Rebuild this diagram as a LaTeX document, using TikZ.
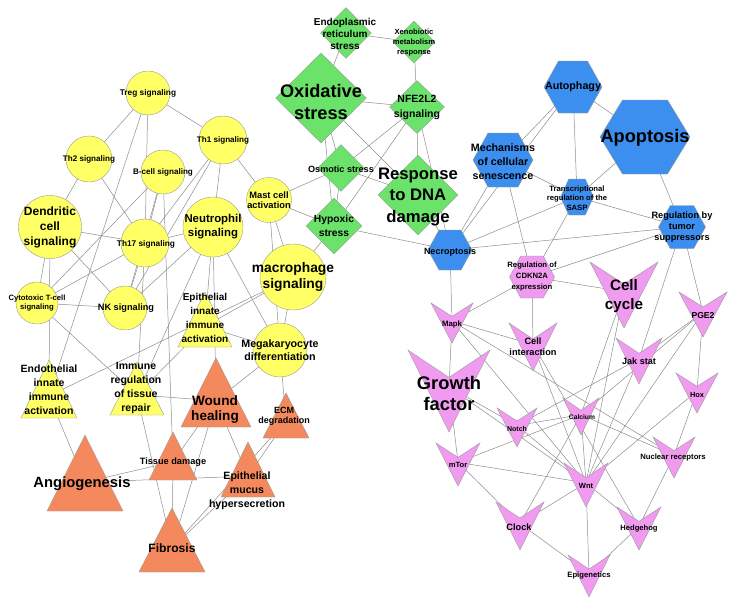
\documentclass[tikz,border=0pt]{standalone}
\usepackage{fontspec}
\setmainfont{Liberation Sans}
\usetikzlibrary{shapes.geometric,backgrounds}
\definecolor{sigyellow}{HTML}{FFFF66}
\definecolor{stressgreen}{HTML}{6BE36B}
\definecolor{hexblue}{HTML}{3D8FEF}
\definecolor{tisorange}{HTML}{F4895E}
\definecolor{veepink}{HTML}{F09BF0}
\newcommand\fs[2]{\fontsize{#1}{#2}\selectfont\bfseries}
% triangle: style, name, apex x, apex y, half width, height
\newcommand\trinode[6]{\path[#1] (#3,#4) -- ++(#5,#6) -- ++({-2*#5},0) -- cycle;
  \coordinate (#2) at (#3,{#4+0.62*#6});}
% hexagon: style, name, cx, cy, width, height
\newcommand\hexnode[6]{\path[#1] ({#3-#5/2},#4) -- ({#3-#5/4},{#4-#6/2}) -- ({#3+#5/4},{#4-#6/2})
  -- ({#3+#5/2},#4) -- ({#3+#5/4},{#4+#6/2}) -- ({#3-#5/4},{#4+#6/2}) -- cycle;
  \coordinate (#2) at (#3,#4);}
% vee: name, cx, top y, half width, height
\newcommand\veenode[5]{\path[vee] ({#2-#4},#3) -- (#2,{#3+#5/3}) -- ({#2+#4},#3) -- (#2,{#3+#5}) -- cycle;
  \coordinate (#1) at (#2,{#3+0.45*#5});}
\tikzset{
  sig/.style={circle, draw=gray!80, fill=sigyellow, inner sep=0pt},
  stress/.style={diamond, draw=gray!80, fill=stressgreen, inner sep=0pt},
  bluehex/.style={draw=gray!80, fill=hexblue},
  pinkhex/.style={draw=gray!80, fill=veepink},
  yelltri/.style={draw=gray!80, fill=sigyellow},
  oratri/.style={draw=gray!80, fill=tisorange},
  vee/.style={draw=gray!80, fill=veepink},
  lbl/.style={inner sep=0pt, align=center},
  link/.style={draw=gray!90, line width=0.5pt}
}
\begin{document}
\begin{tikzpicture}[x=1pt, y=-1pt]
  \useasboundingbox (0,0) rectangle (735,605);

  % immune signaling
  \node[sig, minimum size=44] (treg) at (148,93) {};
  \node[sig, minimum size=48] (th1) at (223,140) {};
  \node[sig, minimum size=46] (th2) at (89,159) {};
  \node[sig, minimum size=44] (bcell) at (163,172) {};
  \node[sig, minimum size=63] (dendr) at (50,227) {};
  \node[sig, minimum size=48] (th17) at (145,243) {};
  \node[sig, minimum size=60] (neutro) at (213,227) {};
  \node[sig, minimum size=45] (mast) at (269,200) {};
  \node[sig, minimum size=66] (macro) at (293,277) {};
  \node[sig, minimum size=42] (cyto) at (37,303) {};
  \node[sig, minimum size=44] (nk) at (125,308) {};
  \node[sig, minimum size=54] (mega) at (280,350) {};
  \trinode{yelltri}{epiinn}{205}{292}{27}{55}
  \trinode{yelltri}{endo}{49}{360}{28}{58}
  \trinode{yelltri}{immreg}{137}{362}{27}{53}

  % tissue processes
  \trinode{oratri}{wound}{216}{358}{35}{69}
  \trinode{oratri}{ecm}{286}{393}{23}{45}
  \trinode{oratri}{tissue}{173}{432}{24}{48}
  \trinode{oratri}{mucus}{248}{442}{27}{55}
  \trinode{oratri}{angio}{85}{435}{38}{76}
  \trinode{oratri}{fibro}{172}{508}{33}{64}

  % stress responses
  \node[stress, minimum width=51, minimum height=51] (er) at (346,33) {};
  \node[stress, minimum width=42, minimum height=42] (xeno) at (414,42) {};
  \node[stress, minimum width=91, minimum height=90] (oxid) at (321,98) {};
  \node[stress, minimum width=55, minimum height=53] (nfe) at (417,107) {};
  \node[stress, minimum width=47, minimum height=47] (osmo) at (341,168) {};
  \node[stress, minimum width=56, minimum height=56] (hypox) at (334,226) {};
  \node[stress, minimum width=80, minimum height=80] (dna) at (418,195) {};

  % cell fate
  \hexnode{bluehex}{autoph}{573}{87}{58}{52}
  \hexnode{bluehex}{apopt}{645}{137}{90}{74}
  \hexnode{bluehex}{mech}{503}{160}{60}{54}
  \hexnode{bluehex}{sasp}{577}{197}{33}{36}
  \hexnode{bluehex}{tumor}{682}{227}{47}{43}
  \hexnode{bluehex}{necro}{450}{250}{44}{40}
  \hexnode{pinkhex}{cdkn}{532}{277}{45}{42}

  % pathways
  \veenode{mapk}{452}{303}{21}{40}
  \veenode{cellint}{533}{323}{24}{48}
  \veenode{cellcyc}{624}{262}{34}{66}
  \veenode{pge}{703}{292}{24}{45}
  \veenode{jak}{639}{338}{23}{46}
  \veenode{growth}{449}{350}{41}{82}
  \veenode{hox}{697}{373}{21}{40}
  \veenode{calc}{581}{398}{18}{37}
  \veenode{notch}{517}{408}{20}{39}
  \veenode{mtor}{458}{443}{22}{43}
  \veenode{nuclear}{674}{437}{21}{41}
  \veenode{wnt}{586}{463}{22}{44}
  \veenode{clock}{520}{502}{24}{48}
  \veenode{hedge}{639}{507}{22}{43}
  \veenode{epigen}{589}{555}{21}{42}

  % labels
  \node[lbl, font=\fs{8.3}{10}] (treg-t) at (148,93) {Treg signaling};
  \node[lbl, font=\fs{8.1}{10}] (th1-t) at (223,140) {Th1 signaling};
  \node[lbl, font=\fs{8.1}{10}] (th2-t) at (89,159) {Th2 signaling};
  \node[lbl, font=\fs{8.1}{10}] (bcell-t) at (163,172) {B-cell signaling};
  \node[lbl, font=\fs{12}{15}] (dendr-t) at (50,227) {Dendritic\\cell\\signaling};
  \node[lbl, font=\fs{8.3}{10}] (th17-t) at (146,244) {Th17 signaling};
  \node[lbl, font=\fs{11.4}{14}] (neutro-t) at (213,227) {Neutrophil\\signaling};
  \node[lbl, font=\fs{9.3}{10.5}] (mast-t) at (269,200) {Mast cell\\activation};
  \node[lbl, font=\fs{13.8}{15.5}] (macro-t) at (293,277) {macrophage\\signaling};
  \node[lbl, font=\fs{7.7}{9}] (cyto-t) at (37,303) {Cytotoxic T-cell\\signaling};
  \node[lbl, font=\fs{9.2}{10}] (nk-t) at (126,308) {NK signaling};
  \node[lbl, font=\fs{10.7}{13}] (mega-t) at (280,350) {Megakaryocyte\\differentiation};
  \node[lbl, font=\fs{10}{14}] (epiinn-t) at (205,318) {Epithelial\\innate\\immune\\activation};
  \node[lbl, font=\fs{10.5}{14}] (endo-t) at (49,390) {Endothelial\\innate\\immune\\activation};
  \node[lbl, font=\fs{10.5}{14}] (immreg-t) at (136,388) {Immune\\regulation\\of tissue\\repair};
  \node[lbl, font=\fs{13.6}{15}] (wound-t) at (215,410) {Wound\\healing};
  \node[lbl, font=\fs{9}{10}] (ecm-t) at (284,416) {ECM\\degradation};
  \node[lbl, font=\fs{9.2}{10}] (tissue-t) at (173,462) {Tissue damage};
  \node[lbl, font=\fs{10.6}{14}] (mucus-t) at (247,491) {Epithelial\\mucus\\hypersecretion};
  \node[lbl, font=\fs{14.8}{16}] (angio-t) at (82,484) {Angiogenesis};
  \node[lbl, font=\fs{12.1}{14}] (fibro-t) at (172,548) {Fibrosis};
  \node[lbl, font=\fs{10}{12}] (er-t) at (345,34) {Endoplasmic\\reticulum\\stress};
  \node[lbl, font=\fs{7.6}{10}] (xeno-t) at (414,43) {Xenobiotic\\metabolism\\response};
  \node[lbl, font=\fs{18.2}{22}] (oxid-t) at (321,102) {Oxidative\\stress};
  \node[lbl, font=\fs{10.5}{15}] (nfe-t) at (417,107) {NFE2L2\\signaling};
  \node[lbl, font=\fs{9.1}{10}] (osmo-t) at (341,169) {Osmotic stress};
  \node[lbl, font=\fs{10.3}{14}] (hypox-t) at (334,226) {Hypoxic\\stress};
  \node[lbl, font=\fs{16.7}{21.5}] (dna-t) at (418,197) {Response\\to DNA\\damage};
  \node[lbl, font=\fs{10.7}{12}] (autoph-t) at (573,87) {Autophagy};
  \node[lbl, font=\fs{18.2}{20}] (apopt-t) at (645,138) {Apoptosis};
  \node[lbl, font=\fs{10.7}{14}] (mech-t) at (503,162) {Mechanisms\\of cellular\\senescence};
  \node[lbl, font=\fs{7.7}{9.5}] (sasp-t) at (577,198) {Transcriptional\\regulation of the\\SASP};
  \node[lbl, font=\fs{9.2}{11}] (tumor-t) at (682,227) {Regulation by\\tumor\\suppressors};
  \node[lbl, font=\fs{9}{10}] (necro-t) at (450,252) {Necroptosis};
  \node[lbl, font=\fs{7.7}{11}] (cdkn-t) at (532,277) {Regulation of\\CDKN2A\\expression};
  \node[lbl, font=\fs{7.8}{9}] (mapk-t) at (452,324) {Mapk};
  \node[lbl, font=\fs{9.2}{11}] (cellint-t) at (533,347) {Cell\\interaction};
  \node[lbl, font=\fs{15.2}{19}] (cellcyc-t) at (624,296) {Cell\\cycle};
  \node[lbl, font=\fs{8.6}{10}] (pge-t) at (703,316) {PGE2};
  \node[lbl, font=\fs{9.1}{10}] (jak-t) at (639,361) {Jak stat};
  \node[lbl, font=\fs{18.3}{21}] (growth-t) at (449,393) {Growth\\factor};
  \node[lbl, font=\fs{7.4}{9}] (hox-t) at (697,395) {Hox};
  \node[lbl, font=\fs{6.7}{8}] (calc-t) at (582,417) {Calcium};
  \node[lbl, font=\fs{7}{8}] (notch-t) at (517,429) {Notch};
  \node[lbl, font=\fs{7.6}{9}] (mtor-t) at (458,465) {mTor};
  \node[lbl, font=\fs{7.7}{9}] (nuclear-t) at (673,458) {Nuclear receptors};
  \node[lbl, font=\fs{7.5}{9}] (wnt-t) at (586,486) {Wnt};
  \node[lbl, font=\fs{9.2}{10}] (clock-t) at (519,527) {Clock};
  \node[lbl, font=\fs{7.6}{9}] (hedge-t) at (639,529) {Hedgehog};
  \node[lbl, font=\fs{7.7}{9}] (epigen-t) at (589,576) {Epigenetics};

  \begin{scope}[on background layer]
    \foreach \a/\b in {treg/th1, treg/th2, treg/th17, treg/endo, th2/dendr, th2/th17,
        th1/th17, th1/nk, th1/neutro, th1/mast, bcell/th17, bcell/cyto, bcell/nk, bcell/tissue,
        dendr/th17, dendr/cyto, dendr/endo, dendr/nk, th17/cyto, th17/nk, th17/immreg, th17/neutro,
        neutro/epiinn, neutro/wound, neutro/mega, neutro/immreg, nk/neutro,
        mast/macro, mast/mega, mast/osmo, mast/hypox, macro/hypox, macro/mega, macro/epiinn, macro/endo,
        mega/epiinn, mega/wound, mega/ecm, cyto/nk, cyto/immreg, endo/angio,
        immreg/wound, immreg/epiinn, immreg/fibro, wound/tissue, wound/fibro, wound/mucus,
        ecm/mucus, ecm/fibro, mucus/fibro, angio/tissue, angio/mucus, tissue/fibro}
      \draw[link] (\a.center) -- (\b.center);
    \foreach \a/\b in {er/oxid, er/xeno, xeno/nfe, oxid/nfe, oxid/osmo, oxid/hypox, oxid/dna,
        nfe/osmo, nfe/hypox, nfe/dna, nfe/necro, osmo/dna, osmo/hypox, hypox/necro, dna/necro,
        autoph/mech, autoph/necro, autoph/apopt, autoph/sasp, apopt/sasp, apopt/tumor,
        mech/sasp, mech/necro, mech/cdkn, sasp/necro, sasp/cdkn, sasp/tumor,
        tumor/necro, tumor/cdkn, tumor/jak, tumor/pge, necro/mapk}
      \draw[link] (\a.center) -- (\b.center);
    \foreach \a/\b in {cdkn/mapk, cdkn/cellint, cdkn/cellcyc, mapk/growth, mapk/cellint, mapk/wnt,
        mapk/nuclear, growth/mtor, growth/notch, growth/wnt, mtor/wnt, mtor/calc, mtor/clock,
        notch/calc, notch/wnt, calc/wnt, calc/nuclear, calc/clock, cellint/hedge, cellint/wnt,
        cellcyc/calc, cellcyc/wnt, jak/wnt, jak/notch, pge/jak, pge/calc, pge/wnt, pge/hox,
        hox/nuclear, hox/wnt, nuclear/hedge, wnt/clock, wnt/hedge, wnt/epigen, clock/epigen, hedge/epigen}
      \draw[link] (\a.center) -- (\b.center);
  \end{scope}
\end{tikzpicture}
\end{document}
